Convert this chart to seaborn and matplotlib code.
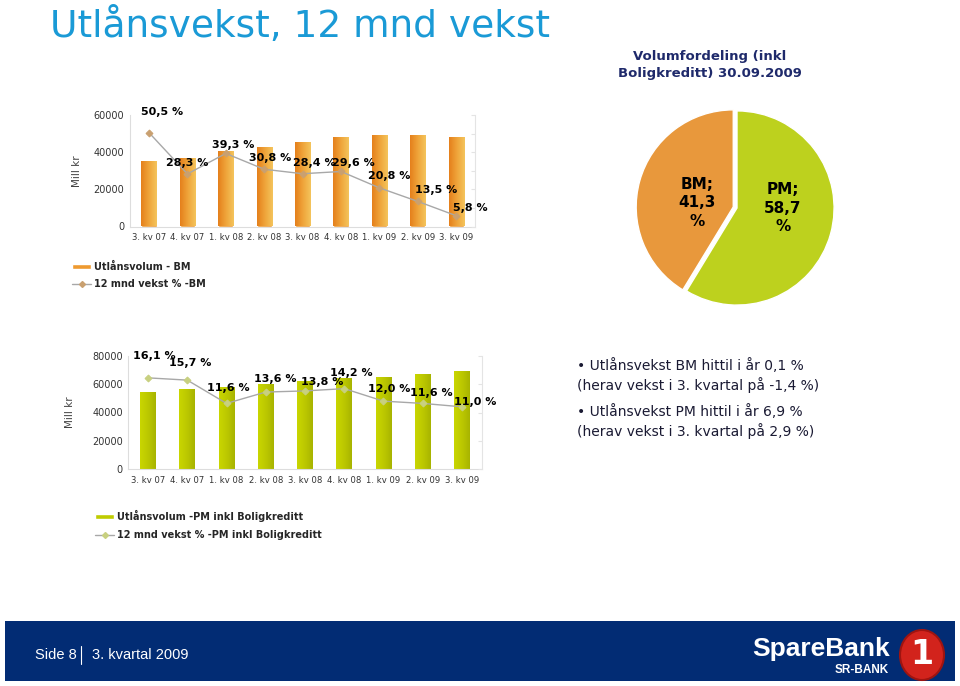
import numpy as np
import pandas as pd
import matplotlib.pyplot as plt
import matplotlib.patches as mpatches
from matplotlib.lines import Line2D
from matplotlib.colors import LinearSegmentedColormap
import seaborn as sns

quarters = ['3. kv 07', '4. kv 07', '1. kv 08', '2. kv 08', '3. kv 08',
            '4. kv 08', '1. kv 09', '2. kv 09', '3. kv 09']
bm_volume = [35300, 37100, 40400, 42900, 45600, 47900, 49000, 49000, 48300]
bm_growth = [50.5, 28.3, 39.3, 30.8, 28.4, 29.6, 20.8, 13.5, 5.8]
pm_volume = [54600, 56700, 58100, 60200, 62100, 64200, 64700, 66800, 69000]
pm_growth = [16.1, 15.7, 11.6, 13.6, 13.8, 14.2, 12.0, 11.6, 11.0]
pie_labels = ['BM', 'PM']
pie_shares = [41.3, 58.7]

# label offsets in pixels (layout only)
bm_offsets = [(13, 21), (0, 11), (7, 8), (6, 11), (12, 11), (12, 8), (10, 12), (18, 11), (14, 8)]
pm_offsets = [(6, 22), (3, 17), (2, 15), (9, 13), (17, 9), (7, 16), (6, 12), (9, 10), (13, 5)]

sns.set_style('white')
plt.rcParams['font.family'] = ['DejaVu Sans']

W, H = 960, 686
fig = plt.figure(figsize=(9.6, 6.86), dpi=100)


def px_box(x0, y0, x1, y1):
    # pixel box (top-left origin) -> figure rect
    return [x0 / W, 1 - y1 / H, (x1 - x0) / W, (y1 - y0) / H]


orange_cmap = LinearSegmentedColormap.from_list('o', ['#E5801C', '#EFA43A', '#F4C45C'])
green_cmap = LinearSegmentedColormap.from_list('g', ['#C9D600', '#BCC800', '#A8B400'])


def combo_chart(ax, volume, growth, ymax, gmax, ystep, gstep, cmap, bar_color, mcolor, offsets, lpad):
    df = pd.DataFrame({'Kvartal': quarters, 'Volum': volume})
    sns.barplot(data=df, x='Kvartal', y='Volum', ax=ax, color=bar_color, width=0.4, saturation=1)
    grad = np.linspace(0, 1, 64).reshape(1, -1)
    for bar in list(ax.patches):
        x0, y0 = bar.get_x(), bar.get_y()
        im = ax.imshow(grad, cmap=cmap, extent=[x0, x0 + bar.get_width(), y0, y0 + bar.get_height()],
                       aspect='auto', zorder=bar.get_zorder() + 0.1)
        im.set_clip_path(bar)
    ax.set_xlim(-0.5, len(quarters) - 0.5)
    ax.set_ylim(0, ymax)
    ax.set_yticks(np.arange(0, ymax + 1, ystep))
    ax.set_xlabel('')
    ax.set_ylabel('Mill kr', fontsize=7.5, color='#404040', labelpad=lpad)
    ax.tick_params(axis='both', length=0, labelcolor='#333333', pad=4)
    ax.tick_params(axis='x', labelsize=6.1, pad=5)
    ax.tick_params(axis='y', labelsize=7)
    for s in ['top', 'right']:
        ax.spines[s].set_visible(False)
    for s in ['left', 'bottom']:
        ax.spines[s].set_color('#DDDDDD')

    ax2 = ax.twinx()
    sns.lineplot(x=np.arange(len(quarters)), y=growth, ax=ax2, color='#A8A8A8', linewidth=1,
                 marker='D', markersize=3.5, markerfacecolor=mcolor, markeredgecolor=mcolor)
    ax2.set_ylim(0, gmax)
    ax2.set_yticks(np.arange(0, gmax + 0.1, gstep))
    ax2.set_yticklabels([])
    ax2.tick_params(axis='y', direction='in', length=3, color='#E4E4E4')
    for s in ['top', 'left', 'bottom']:
        ax2.spines[s].set_visible(False)
    ax2.spines['right'].set_color('#E4E4E4')
    for i, v in enumerate(growth):
        ax2.annotate(f'{v:.1f} %'.replace('.', ','), (i, v), xytext=offsets[i],
                     textcoords='offset pixels', ha='center', va='center',
                     fontsize=8, fontweight='bold', color='black')
    return ax2


# top chart (BM)
ax_top = fig.add_axes(px_box(129.8, 115, 475.4, 226.5))
combo_chart(ax_top, bm_volume, bm_growth, 60000, 60, 20000, 10, orange_cmap, '#EE9A30', '#C9A070',
            bm_offsets, 8)

# bottom chart (PM)
ax_bot = fig.add_axes(px_box(128.4, 355.7, 481.6, 469.3))
combo_chart(ax_bot, pm_volume, pm_growth, 80000, 20, 20000, 5, green_cmap, '#BFCC00', '#C8D080',
            pm_offsets, 12)

# legends
leg_font = {'size': 7, 'weight': 'bold'}
h_top = [mpatches.Patch(facecolor='#EE9A30'),
         Line2D([], [], color='#A8A8A8', lw=1, marker='D', markersize=3, mfc='#C9A070', mec='#C9A070')]
fig.legend(h_top, ['Utlånsvolum - BM', '12 mnd vekst % -BM'], loc='upper left',
           bbox_to_anchor=(72 / W, 1 - 262 / H), frameon=False, prop=leg_font,
           borderpad=0, borderaxespad=0, handlelength=2.0, handleheight=0.5,
           handletextpad=0.3, labelspacing=0.75)
h_bot = [mpatches.Patch(facecolor='#BFCC00'),
         Line2D([], [], color='#A8A8A8', lw=1, marker='D', markersize=3, mfc='#C8D080', mec='#C8D080')]
fig.legend(h_bot, ['Utlånsvolum -PM inkl Boligkreditt', '12 mnd vekst % -PM inkl Boligkreditt'],
           loc='upper left', bbox_to_anchor=(95 / W, 1 - 510 / H), frameon=False, prop=leg_font,
           borderpad=0, borderaxespad=0, handlelength=2.0, handleheight=0.5,
           handletextpad=0.3, labelspacing=0.8)

# pie
ax_pie = fig.add_axes(px_box(637, 108, 837, 308))
wedges, texts = ax_pie.pie(pie_shares, labels=[f'{l};\n{v:.1f}\n%'.replace('.', ',') for l, v in zip(pie_labels, pie_shares)],
                           colors=['#E8983C', '#BDD11E'], startangle=90, counterclock=True,
                           explode=[0.04, 0], labeldistance=0.45,
                           textprops={'fontsize': 11, 'fontweight': 'bold', 'color': 'black'})
for t in texts:
    t.set_ha('center')
    t.set_va('center')
    t.set_linespacing(1.3)
texts[0].set_position((texts[0].get_position()[0] + 0.06, texts[0].get_position()[1] - 0.08))
texts[1].set_position((texts[1].get_position()[0] + 0.04, texts[1].get_position()[1] + 0.12))
ax_pie.set_xlim(-1.03, 1.03)
ax_pie.set_ylim(-1.03, 1.03)
ax_pie.set_aspect('equal')

fig.text(710 / W, 1 - 65 / H, 'Volumfordeling (inkl\nBoligkreditt) 30.09.2009', ha='center', va='center',
         fontsize=9.5, fontweight='bold', color='#1F2A6B', linespacing=1.4)

# title
fig.text(50 / W, 1 - 37 / H, 'Utlånsvekst, 12 mnd vekst', fontsize=27, color='#1A9AD6', va='baseline')

# bullet texts
fig.text(577 / W, 1 - 358 / H, '• Utlånsvekst BM hittil i år 0,1 %\n(herav vekst i 3. kvartal på -1,4 %)',
         fontsize=10, color='#1A1A33', va='top', linespacing=1.3)
fig.text(577 / W, 1 - 404 / H, '• Utlånsvekst PM hittil i år 6,9 %\n(herav vekst i 3. kvartal på 2,9 %)',
         fontsize=10, color='#1A1A33', va='top', linespacing=1.3)

# footer
fig.add_artist(mpatches.Rectangle((5 / W, 1 - 681 / H), 950 / W, 60 / H, transform=fig.transFigure,
                                  facecolor='#022C74', edgecolor='none'))
fig.text(35 / W, 1 - 655 / H, 'Side 8', fontsize=10.5, color='white', va='center', family='Liberation Sans')
fig.add_artist(Line2D([81 / W, 81 / W], [1 - 646 / H, 1 - 664 / H], transform=fig.transFigure,
                      color='white', lw=0.8))
fig.text(92 / W, 1 - 655 / H, '3. kvartal 2009', fontsize=10.5, color='white', va='center',
         family='Liberation Sans')
fig.text(752 / W, 1 - 656 / H, 'SpareBank', fontsize=19, fontweight='bold', color='white', va='baseline',
         family='Liberation Sans')
fig.text(889 / W, 1 - 670 / H, 'SR-BANK', fontsize=8.5, fontweight='bold', color='white', va='center', ha='right',
         family='Liberation Sans')
fig.add_artist(mpatches.Ellipse((922 / W, 1 - 655 / H), 44 / W, 50 / H, transform=fig.transFigure,
                                facecolor='#D2231C', edgecolor='#9E1410', lw=1.5))
fig.text(922 / W, 1 - 655 / H, '1', fontsize=24, fontweight='bold', color='white', ha='center', va='center')

fig.savefig('out.png', dpi=100)
